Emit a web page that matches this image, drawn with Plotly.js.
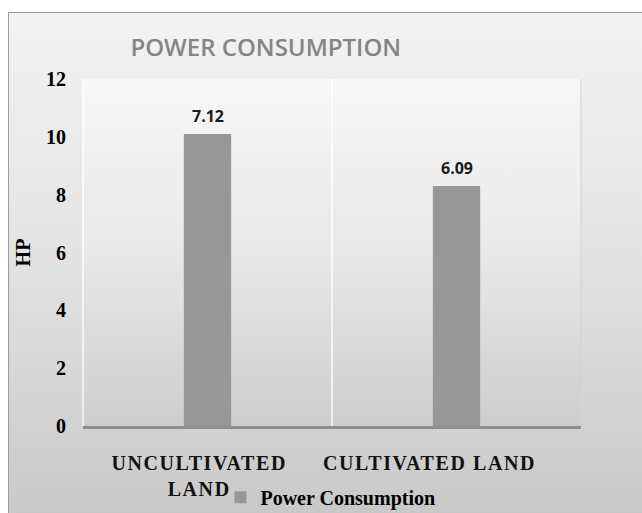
<!DOCTYPE html>
<html><head><meta charset="utf-8">
<script src="https://cdn.plot.ly/plotly-3.0.1.min.js"></script>
<style>
html,body{margin:0;padding:0;width:642px;height:513px;overflow:hidden;background:#ffffff;}
#frame{position:absolute;left:8px;top:12px;width:640px;height:510px;border:1.5px solid #9c9c9c;box-sizing:border-box;
  background:linear-gradient(to bottom,#f3f3f3 0%,#e4e4e4 45%,#c8c8c8 100%);}
#chart{position:absolute;left:0;top:0;width:642px;height:513px;}
#chart g.annotation[data-index="0"] text, #chart g.annotation[data-index="1"] text{letter-spacing:1.6px;}
</style>
</head><body>
<div id="frame"></div>
<div id="chart"></div>
<script>
// ---- data ----
const categories = ["UNCULTIVATED LAND", "CULTIVATED LAND"];
const tickLabels = ["UNCULTIVATED<br>LAND", "CULTIVATED LAND"];
const powerHP = [10.1, 8.3];
const dataLabels = ["7.12", "6.09"];
const seriesName = "Power Consumption";
const yTicks = [0, 2, 4, 6, 8, 10, 12];

// ---- styles ----
const labelShift = [-9, -27];
const serif = "Liberation Serif, Times New Roman, serif";

const plotGrad = 'data:image/svg+xml;utf8,' + encodeURIComponent(
  '<svg xmlns="http://www.w3.org/2000/svg" width="100" height="100" preserveAspectRatio="none">' +
  '<defs><linearGradient id="g" x1="0" y1="0" x2="0" y2="1">' +
  '<stop offset="0" stop-color="#f7f7f7"/><stop offset="0.5" stop-color="#e8e8e8"/><stop offset="1" stop-color="#cdcdcd"/>' +
  '</linearGradient></defs><rect width="100" height="100" fill="url(#g)"/></svg>');

const trace = {
  type: 'bar',
  x: categories,
  y: powerHP,
  name: seriesName,
  width: 0.19,
  marker: {color: '#979797'},
  hoverinfo: 'x+y',
  showlegend: true
};

const annotations = [];
categories.forEach((c, i) => {
  annotations.push({
    xref: 'x', yref: 'paper', x: c, y: 0, xanchor: 'center', yanchor: 'top',
    yshift: -24, xshift: labelShift[i], showarrow: false, align: 'center',
    text: '<b>' + tickLabels[i] + '</b>',
    font: {family: serif, size: 20, color: '#111111'}
  });
});
categories.forEach((c, i) => {
  annotations.push({
    xref: 'x', yref: 'y', x: c, y: powerHP[i], xanchor: 'center', yanchor: 'bottom',
    yshift: 5, showarrow: false,
    text: '<b>' + dataLabels[i] + '</b>',
    font: {family: 'Open Sans, sans-serif', size: 16, color: '#1a1a1a'}
  });
});

const layout = {
  width: 642, height: 513,
  margin: {l: 83, r: 61, t: 79, b: 87, autoexpand: false},
  paper_bgcolor: 'rgba(0,0,0,0)',
  plot_bgcolor: 'rgba(0,0,0,0)',
  title: {
    text: 'POWER CONSUMPTION',
    font: {family: 'Open Sans, sans-serif', size: 24, weight: 600, color: '#858585'},
    xref: 'container', x: 0.414, xanchor: 'center',
    yref: 'container', y: 0.908, yanchor: 'middle'
  },
  xaxis: {
    type: 'category',
    showticklabels: false,
    showgrid: false,
    zeroline: false,
    showline: true, linecolor: '#8e8e8e', linewidth: 3,
    ticks: ''
  },
  yaxis: {
    range: [0, 12],
    tickvals: yTicks,
    ticktext: yTicks.map(v => '<b>' + v + '</b>'),
    tickfont: {family: serif, size: 20, color: '#000000'},
    ticklabelstandoff: 16,
    showgrid: false,
    zeroline: false,
    showline: false,
    ticks: '',
    title: {text: '<b>HP</b>', font: {family: serif, size: 20, color: '#000000'}, standoff: 10}
  },
  legend: {
    orientation: 'h', x: 0.276, xanchor: 'left', y: -0.205, yanchor: 'middle',
    font: {family: serif, size: 20, weight: 'bold', color: '#000000'},
    bgcolor: 'rgba(0,0,0,0)', itemwidth: 30
  },
  images: [{
    source: plotGrad, xref: 'paper', yref: 'paper', x: 0, y: 1, sizex: 1, sizey: 1,
    xanchor: 'left', yanchor: 'top', sizing: 'stretch', layer: 'below'
  }],
  shapes: [
    {type: 'line', xref: 'x', yref: 'paper', x0: 0.5, x1: 0.5, y0: 0, y1: 1,
     line: {color: 'rgba(255,255,255,0.9)', width: 1.5}, layer: 'below'},
    {type: 'line', xref: 'paper', yref: 'paper', x0: 0, x1: 0, y0: 0, y1: 1,
     line: {color: 'rgba(255,255,255,0.9)', width: 1.5}, layer: 'below'},
    {type: 'line', xref: 'paper', yref: 'paper', x0: 1, x1: 1, y0: 0, y1: 1,
     line: {color: 'rgba(210,210,210,0.9)', width: 1}, layer: 'below'}
  ],
  annotations: annotations,
  bargap: 0.8
};

Plotly.newPlot('chart', [trace], layout, {displayModeBar: false});
</script>
</body></html>
